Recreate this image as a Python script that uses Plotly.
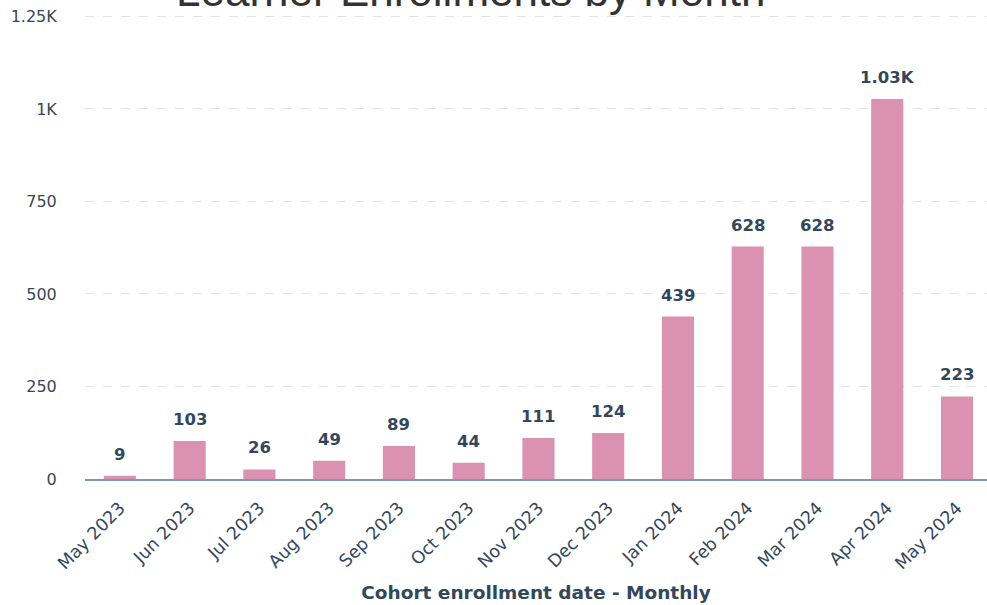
import plotly.graph_objects as go

months = ["May 2023", "Jun 2023", "Jul 2023", "Aug 2023", "Sep 2023", "Oct 2023",
          "Nov 2023", "Dec 2023", "Jan 2024", "Feb 2024", "Mar 2024", "Apr 2024", "May 2024"]
enrollments = [9, 103, 26, 49, 89, 44, 111, 124, 439, 628, 628, 1027, 223]
value_labels = ["9", "103", "26", "49", "89", "44", "111", "124", "439", "628", "628", "1.03K", "223"]
y_tickvals = [0, 250, 500, 750, 1000, 1250]
y_ticktext = ["0", "250", "500", "750", "1K", "1.25K"]

BAR = "#db91b0"
INK = "#33475b"
FONT = "DejaVu Sans"

fig = go.Figure()
fig.add_trace(go.Bar(x=months, y=enrollments, marker=dict(color=BAR, line=dict(width=0)),
                     hoverinfo="x+y"))

for m, v, t in zip(months, enrollments, value_labels):
    fig.add_annotation(x=m, y=v, text="<b>%s</b>" % t, showarrow=False,
                       yanchor="bottom", yshift=10,
                       font=dict(family=FONT, size=16.5, color=INK))

fig.add_annotation(x=0.427, xref="paper", y=1, yref="paper", xanchor="center",
                   yanchor="bottom", yshift=-8,
                   text="Learner Enrollments by Month", showarrow=False,
                   font=dict(family="Liberation Sans", size=44, color="#333333"))

fig.update_layout(
    width=987, height=605,
    margin=dict(l=85, r=0, t=9, b=126),
    paper_bgcolor="white", plot_bgcolor="white",
    bargap=0.54,
    showlegend=False,
    font=dict(family=FONT, color=INK),
    xaxis=dict(
        type="category", range=[-0.5, 12.43], automargin=False,
        tickangle=-45, tickfont=dict(family=FONT, size=17.5, color=INK),
        showgrid=False, showline=True, linecolor="#7c98b6", linewidth=2,
        ticks="outside", ticklen=10, tickcolor="rgba(0,0,0,0)",
        title=dict(text="<b>Cohort enrollment date - Monthly</b>",
                   font=dict(family=FONT, size=18.5, color=INK), standoff=14),
    ),
    yaxis=dict(
        range=[0, 1270], tickvals=y_tickvals, ticktext=y_ticktext, automargin=False,
        tickfont=dict(family=FONT, size=16, color="#3a4652"),
        showgrid=True, gridcolor="#dfe3eb", griddash="dash", gridwidth=1,
        zeroline=False, showline=False,
        ticks="outside", ticklen=24, tickcolor="rgba(0,0,0,0)",
    ),
)

fig.write_html("out.html", config={"displayModeBar": False},
               post_script="document.body.style.margin='0px';")
